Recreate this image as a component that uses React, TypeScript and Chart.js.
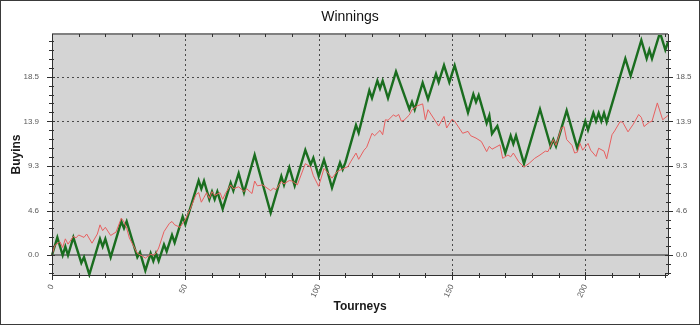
import React, { useEffect, useRef } from 'react';
import { Chart, registerables } from 'chart.js';

Chart.register(...registerables);

// ---- data ----
const chartTitle = 'Winnings';
const xAxisTitle = 'Tourneys';
const yAxisTitle = 'Buyins';

const xTickValues = [0, 50, 100, 150, 200];
const yTickValues = [0, 4.63, 9.26, 13.89, 18.52];
const xRange = [0, 231];
const yRange = [-2.05, 22.95];

const greenTourney = [0,2,4,5,6,8,11,12,14,18,19,20,22,26,27,28,32,33,35,37,38,39,40,42,43,45,46,49,50,55,56,57,59,60,61,62,64,67,68,70,72,76,82,86,87,89,91,95,97,98,100,102,103,105,108,109,110,114,115,119,120,122,123,124,126,129,134,135,136,139,141,144,145,147,149,151,156,158,159,160,163,164,165,167,170,172,173,174,177,183,187,188,189,193,197,200,201,203,204,205,206,207,208,215,217,221,223,224,225,228,230,231];
const greenBuyins = [0,1.85,0,0.9,0,1.85,-0.8,-0.2,-2.0,1.7,0.9,1.7,-0.2,3.5,2.8,3.5,-0.2,0.3,-1.6,0.2,-0.6,0.2,-0.6,1.1,0.4,2.1,1.3,4.0,3.2,7.75,6.9,7.7,5.8,6.6,5.8,6.6,4.8,7.5,6.7,8.5,6.5,10.4,4.4,8.2,7.3,9.1,7.2,10.9,9.4,10.1,8.2,9.9,9.0,7.0,9.6,8.9,9.6,13.5,12.7,17.1,16.3,18.1,17.3,18.1,16.3,19.05,15.15,15.9,15.1,17.9,16.2,18.8,17.95,19.7,17.95,19.7,14.8,16.7,15.9,16.6,13.7,14.5,12.6,13.4,10.6,12.4,11.55,12.4,9.5,15.15,11.3,12.0,11.3,15.0,11.1,13.9,13.0,14.75,13.9,14.75,13.9,14.75,13.8,20.4,18.6,22.3,20.4,21.3,20.4,23.1,21.3,22.1];

const redTourney = [0,1,3,4,5,6,8,9,10,12,13,15,17,18,19,20,22,24,26,27,28,29,32,34,35,37,38,39,40,42,44,45,46,48,50,52,54,55,56,57,58,59,60,61,63,64,65,67,68,70,72,73,75,76,77,79,82,83,84,86,87,89,90,92,95,97,98,100,102,103,105,107,109,111,112,114,115,117,118,120,121,123,124,125,126,128,129,130,131,132,134,135,137,139,140,141,145,147,148,150,151,154,156,157,159,161,163,164,165,168,169,171,172,173,175,177,179,181,183,185,186,188,189,191,192,193,195,196,197,198,199,201,202,204,205,207,208,210,211,213,214,216,218,220,221,222,224,225,227,229,231];
const redBuyins = [0,1.0,1.4,0.8,1.7,1.15,1.95,1.8,2.1,1.85,2.2,1.25,2.2,3.15,2.55,2.9,2.05,2.4,3.85,3.45,2.8,1.8,0.2,-0.1,-0.3,0.1,0,0.2,0.75,2.45,3.3,3.5,3.15,2.9,3.7,4.9,6.3,6.5,5.5,6.0,6.5,5.9,6.6,6.2,6.5,5.8,6.4,7.3,6.9,7.1,6.6,6.9,6.4,7.7,7.2,7.3,6.7,6.95,6.8,7.65,7.4,7.75,7.7,7.3,9.5,9.15,8.25,7.15,9.0,8.7,8.0,8.7,8.95,9.2,9.7,10.6,9.95,10.9,11.2,12.65,12.4,12.95,12.5,14.05,14.0,14.55,14.4,14.6,13.9,14.0,14.55,15.1,15.5,15.7,14.05,15.1,13.4,14.4,13.2,14.1,13.9,12.65,12.85,12.4,12.15,11.8,10.75,11.3,11.0,11.45,10.05,10.4,10.2,10.6,9.7,9.15,9.55,10.05,10.4,10.8,10.75,12.0,11.4,13.2,13.35,12.0,11.4,10.6,10.7,11.6,10.9,11.6,10.9,10.25,11.1,10.8,10.0,12.5,12.9,13.85,13.8,12.8,13.6,14.6,14.3,13.35,13.8,13.9,15.8,14.05,14.5];

const FONT = "'Liberation Sans', Arial, sans-serif";

const decorPlugin = {
  id: 'decor',
  beforeDraw(chart: any) {
    const { ctx, chartArea: a } = chart;
    ctx.save();
    ctx.fillStyle = '#ffffff';
    ctx.fillRect(0, 0, chart.width, chart.height);
    ctx.fillStyle = '#d4d4d4';
    ctx.fillRect(a.left, a.top, a.right - a.left, a.bottom - a.top);
    ctx.restore();
  },
  beforeDatasetsDraw(chart: any) {
    const { ctx, chartArea: a } = chart;
    const xs = chart.scales.x;
    const ys = chart.scales.y;
    ctx.save();
    ctx.lineWidth = 1;
    ctx.strokeStyle = '#4a4a4a';
    ctx.setLineDash([2, 3]);
    xTickValues.forEach((v) => {
      if (v === 0) return;
      const px = Math.round(xs.getPixelForValue(v)) + 0.5;
      ctx.beginPath();
      ctx.moveTo(px, a.top);
      ctx.lineTo(px, a.bottom);
      ctx.stroke();
    });
    yTickValues.forEach((v) => {
      if (v === 0) return;
      const py = Math.round(ys.getPixelForValue(v)) + 0.5;
      ctx.beginPath();
      ctx.moveTo(a.left, py);
      ctx.lineTo(a.right, py);
      ctx.stroke();
    });
    ctx.setLineDash([]);
    ctx.strokeStyle = '#7c7c7c';
    ctx.lineWidth = 2;
    const y0 = Math.round(ys.getPixelForValue(0));
    ctx.beginPath();
    ctx.moveTo(a.left, y0);
    ctx.lineTo(a.right, y0);
    ctx.stroke();
    ctx.restore();
  },
  afterDatasetsDraw(chart: any) {
    const { ctx, chartArea: a } = chart;
    const xs = chart.scales.x;
    const ys = chart.scales.y;
    ctx.save();
    ctx.lineWidth = 2;
    ctx.strokeStyle = '#808080';
    ctx.beginPath();
    ctx.moveTo(a.left, a.top);
    ctx.lineTo(a.right, a.top);
    ctx.stroke();
    ctx.lineWidth = 1;
    ctx.strokeStyle = '#303030';
    ctx.beginPath();
    ctx.moveTo(Math.round(a.left) + 0.5, a.top);
    ctx.lineTo(Math.round(a.left) + 0.5, a.bottom);
    ctx.moveTo(Math.round(a.right) + 0.5, a.top);
    ctx.lineTo(Math.round(a.right) + 0.5, a.bottom);
    ctx.moveTo(a.left, Math.round(a.bottom) + 0.5);
    ctx.lineTo(a.right, Math.round(a.bottom) + 0.5);
    ctx.stroke();
    const yStep = yTickValues[1] - yTickValues[0];
    const minor = yStep / 5;
    ctx.beginPath();
    for (let k = Math.ceil(yRange[0] / minor); k * minor <= yRange[1]; k++) {
      const v = k * minor;
      const py = Math.round(ys.getPixelForValue(v)) + 0.5;
      const major = k % 5 === 0;
      const out = major ? 5 : 3;
      const inn = major ? 3 : 2;
      ctx.moveTo(a.left - out, py);
      ctx.lineTo(a.left + inn, py);
      ctx.moveTo(a.right - inn, py);
      ctx.lineTo(a.right + out, py);
    }
    for (let t = xRange[0]; t <= xRange[1]; t += 10) {
      const px = Math.round(xs.getPixelForValue(t)) + 0.5;
      const major = t % 50 === 0;
      ctx.moveTo(px, a.bottom - (major ? 3 : 2));
      ctx.lineTo(px, a.bottom + (major ? 5 : 3));
      ctx.moveTo(px, a.top);
      ctx.lineTo(px, a.top + 3);
    }
    ctx.stroke();
    ctx.restore();
  },
  afterDraw(chart: any) {
    const { ctx } = chart;
    ctx.save();
    ctx.strokeStyle = '#3a3a3a';
    ctx.lineWidth = 1;
    ctx.strokeRect(0.5, 0.5, chart.width - 1, chart.height - 1);
    ctx.restore();
  },
};

export default function App() {
  const canvasRef = useRef<HTMLCanvasElement | null>(null);

  useEffect(() => {
    if (!canvasRef.current) return;
    const green = greenTourney.map((t, i) => ({ x: t, y: greenBuyins[i] }));
    const red = redTourney.map((t, i) => ({ x: t, y: redBuyins[i] }));

    const tickFont = { family: FONT, size: 8 };
    const yScaleBase = {
      type: 'linear' as const,
      min: yRange[0],
      max: yRange[1],
      afterBuildTicks: (s: any) => {
        s.ticks = yTickValues.map((v) => ({ value: v }));
      },
      ticks: {
        font: tickFont,
        color: '#5a5a5a',
        autoSkip: false,
        callback: (v: any) => Number(v).toFixed(1),
      },
      grid: { display: true, drawOnChartArea: false, drawTicks: false, color: 'rgba(0,0,0,0)' },
      border: { display: false },
    };

    const chart = new Chart(canvasRef.current, {
      type: 'line',
      data: {
        datasets: [
          {
            label: 'Expected',
            data: red,
            borderColor: '#e86060',
            borderWidth: 1,
            pointRadius: 0,
            tension: 0,
            fill: false,
            clip: { left: 3, top: 0, right: 3, bottom: 3 } as any,
          },
          {
            label: 'Winnings',
            data: green,
            borderColor: '#1a6d1f',
            borderWidth: 2.4,
            pointRadius: 0,
            tension: 0,
            fill: false,
            clip: { left: 3, top: 0, right: 3, bottom: 3 } as any,
          },
        ],
      },
      options: {
        animation: false,
        responsive: false,
        devicePixelRatio: 1,
        layout: { padding: 0 },
        plugins: {
          legend: { display: false },
          tooltip: { enabled: false },
          title: {
            display: true,
            text: chartTitle,
            color: '#111111',
            font: { family: FONT, size: 14, weight: 'normal' },
            padding: { top: 9, bottom: 8.2 },
          },
        },
        scales: {
          x: {
            type: 'linear',
            position: 'bottom',
            min: xRange[0],
            max: xRange[1],
            afterBuildTicks: (s: any) => {
              s.ticks = xTickValues.map((v) => ({ value: v }));
            },
            afterFit: (s: any) => {
              s.height = 50;
            },
            ticks: {
              font: tickFont,
              color: '#5a5a5a',
              autoSkip: false,
              minRotation: 65,
              maxRotation: 65,
              padding: 8,
              callback: (v: any) => String(v),
            },
            grid: { display: true, drawOnChartArea: false, drawTicks: false, color: 'rgba(0,0,0,0)' },
            border: { display: false },
            title: {
              display: true,
              text: xAxisTitle,
              color: '#1a1a1a',
              font: { family: FONT, size: 12, weight: 'bold' },
              padding: { top: 0, bottom: 11 },
            },
          },
          y: {
            ...yScaleBase,
            position: 'left',
            afterFit: (s: any) => {
              s.width = 52;
            },
            ticks: { ...yScaleBase.ticks, padding: 13 },
            title: {
              display: true,
              text: yAxisTitle,
              color: '#1a1a1a',
              font: { family: FONT, size: 12, weight: 'bold' },
              padding: { top: 9, bottom: 0 },
            },
          },
          y2: {
            ...yScaleBase,
            position: 'right',
            afterFit: (s: any) => {
              s.width = 32;
            },
            ticks: { ...yScaleBase.ticks, padding: 8 },
          },
        },
      } as any,
      plugins: [decorPlugin],
    });
    return () => chart.destroy();
  }, []);

  return (
    <div style={{ position: 'fixed', left: 0, top: 0, width: 700, height: 325, background: '#fff' }}>
      <canvas ref={canvasRef} width={700} height={325} style={{ width: 700, height: 325, display: 'block' }} />
    </div>
  );
}
